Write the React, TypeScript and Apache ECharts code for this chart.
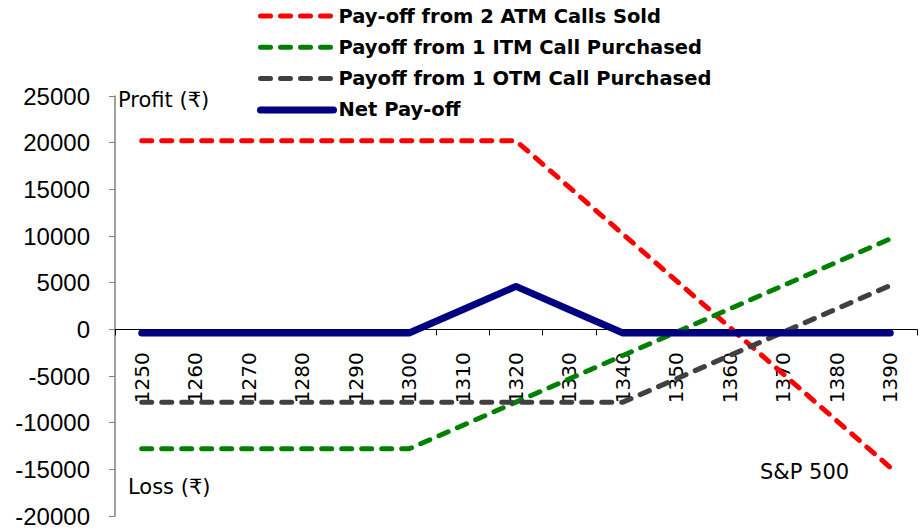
import React, { useEffect, useRef } from "react";
import * as echarts from "echarts";

const strikes = ["1250", "1260", "1270", "1280", "1290", "1300", "1310", "1320", "1330", "1340", "1350", "1360", "1370", "1380", "1390"];
const atmSold = [20200, 20200, 20200, 20200, 20200, 20200, 20200, 20200, 15200, 10200, 5200, 200, -4800, -9800, -14800];
const itmBought = [-12800, -12800, -12800, -12800, -12800, -12800, -10300, -7800, -5300, -2800, -300, 2200, 4700, 7200, 9700];
const otmBought = [-7800, -7800, -7800, -7800, -7800, -7800, -7800, -7800, -7800, -7800, -5300, -2800, -300, 2200, 4700];
const netPayoff = [-400, -400, -400, -400, -400, -400, 2100, 4600, 2100, -400, -400, -400, -400, -400, -400];
const seriesNames = [
  "Pay-off from 2 ATM Calls Sold",
  "Payoff from 1 ITM Call Purchased",
  "Payoff from 1 OTM Call Purchased",
  "Net Pay-off",
];
const seriesColors = ["#ff0000", "#008000", "#404040", "#000080"];
const yMin = -20000;
const yMax = 25000;

export default function App() {
  const ref = useRef<HTMLDivElement>(null);
  useEffect(() => {
    if (!ref.current) return;
    const chart = echarts.init(ref.current, null, { renderer: "svg" });
    const gridTop = 96;
    const gridBottom = 15;
    const plotH = 531 - gridTop - gridBottom;
    const zeroOffset = -(plotH * (0 - yMin)) / (yMax - yMin);
    const dashed = (color: string) => ({
      color,
      width: 5,
      type: [10, 10] as any,
      cap: "round" as const,
    });
    chart.setOption({
      animation: false,
      backgroundColor: "#ffffff",
      legend: {
        orient: "vertical",
        left: 257,
        top: 4,
        padding: 0,
        itemWidth: 73,
        itemHeight: 6,
        itemGap: 7.3,
        itemStyle: { opacity: 0 },
        data: seriesNames.map((n, i) => ({
          name: n,
          lineStyle: i < 3
            ? { width: 5, type: [10, 10], cap: "round", color: seriesColors[i] }
            : { width: 7, type: "solid", cap: "round", color: seriesColors[i] },
        })),
        textStyle: {
          fontFamily: "DejaVu Sans",
          fontWeight: "bold",
          fontSize: 19.5,
          lineHeight: 24,
          color: "#000000",
        },
      },
      grid: { left: 115, right: 7, top: gridTop, bottom: gridBottom, containLabel: false, outerBoundsMode: "none" },
      xAxis: {
        type: "category",
        data: strikes,
        boundaryGap: true,
        offset: zeroOffset,
        axisLine: { onZero: false, lineStyle: { color: "#000000", width: 1 } },
        axisTick: { show: true, length: 6, lineStyle: { color: "#000000" } },
        axisLabel: {
          rotate: 90,
          margin: 23,
          fontFamily: "DejaVu Sans",
          fontSize: 20,
          color: "#000000",
        },
        splitLine: { show: false },
      },
      yAxis: {
        type: "value",
        min: yMin,
        max: yMax,
        interval: 5000,
        axisLine: { show: true, lineStyle: { color: "#808080", width: 1.5 } },
        axisTick: { show: true, length: 6, lineStyle: { color: "#808080" } },
        axisLabel: {
          margin: 25,
          fontFamily: "Liberation Sans",
          fontSize: 24,
          color: "#000000",
          formatter: (v: number) => String(v),
        },
        splitLine: { show: false },
      },
      graphic: [
        { type: "text", left: 118, top: 89, style: { text: "Profit (₹)", font: "21px 'DejaVu Sans'", fill: "#000000" } },
        { type: "text", left: 128, top: 476, style: { text: "Loss (₹)", font: "21px 'DejaVu Sans'", fill: "#000000" } },
        { type: "text", left: 760, top: 461, style: { text: "S&P 500", font: "21px 'DejaVu Sans'", fill: "#000000" } },
      ],
      series: [
        { name: seriesNames[0], type: "line", data: atmSold, symbol: "none", lineStyle: dashed(seriesColors[0]), itemStyle: { color: seriesColors[0] } },
        { name: seriesNames[1], type: "line", data: itmBought, symbol: "none", lineStyle: dashed(seriesColors[1]), itemStyle: { color: seriesColors[1] } },
        { name: seriesNames[2], type: "line", data: otmBought, symbol: "none", lineStyle: dashed(seriesColors[2]), itemStyle: { color: seriesColors[2] } },
        {
          name: seriesNames[3],
          type: "line",
          data: netPayoff,
          symbol: "none",
          lineStyle: { color: seriesColors[3], width: 7, cap: "round", join: "round" },
          itemStyle: { color: seriesColors[3] },
        },
      ],
    });
    return () => chart.dispose();
  }, []);
  return <div ref={ref} style={{ width: 924, height: 531, position: "absolute", left: 0, top: 0 }} />;
}
